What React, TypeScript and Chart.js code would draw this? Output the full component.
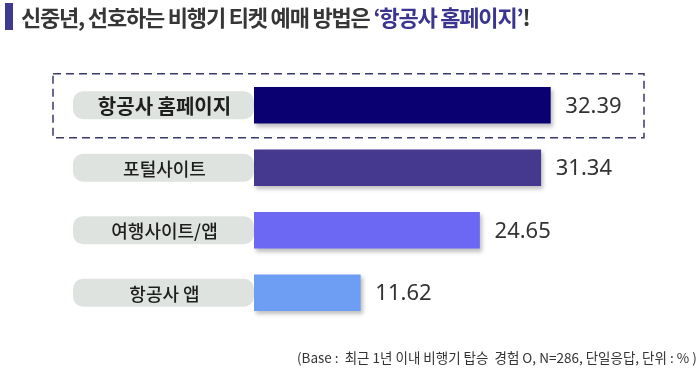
import React, { useEffect, useRef } from "react";
import { Chart, registerables } from "chart.js";

Chart.register(...registerables);

const categories = ["항공사 홈페이지", "포털사이트", "여행사이트/앱", "항공사 앱"];
const values = [32.39, 31.34, 24.65, 11.62];
const barColors = ["#0b0072", "#45398f", "#6c68f4", "#6e9ef4"];
const titleMain = "신중년, 선호하는 비행기 티켓 예매 방법은 ";
const titleHighlight = "‘항공사 홈페이지’";
const titleEnd = "!";
const footnote = "(Base :  최근 1년 이내 비행기 탑승  경험 O, N=286, 단일응답, 단위 : % )";

const KR = "'Noto Sans CJK KR', 'Noto Sans', sans-serif";

const decorPlugin = {
  id: "decor",
  beforeDatasetsDraw(chart: any) {
    const { ctx, chartArea, scales } = chart;
    const ys = scales.y;
    ctx.save();
    const y0 = ys.getPixelForValue(0);
    ctx.strokeStyle = "#3a3a6a";
    ctx.lineWidth = 1.5;
    ctx.setLineDash([8, 5]);
    ctx.strokeRect(53, y0 - 31.5, 591, 64);
    ctx.setLineDash([]);
    categories.forEach((c, i) => {
      const y = ys.getPixelForValue(i);
      const left = 73;
      const right = chartArea.left;
      const h = 28;
      ctx.fillStyle = "#dfe3df";
      ctx.beginPath();
      (ctx as any).roundRect(left, y - h / 2, right - left, h, 10);
      ctx.fill();
      ctx.fillStyle = "#1e1e1e";
      ctx.textAlign = "center";
      ctx.textBaseline = "middle";
      ctx.font = i === 0 ? `bold 20px ${KR}` : `500 18px ${KR}`;
      ctx.fillText(c, (left + right) / 2 + 1, y + 1);
    });
    ctx.restore();
    ctx.save();
    ctx.shadowColor = "rgba(0,0,0,0.25)";
    ctx.shadowOffsetX = 2;
    ctx.shadowOffsetY = 3;
    ctx.shadowBlur = 4;
  },
  afterDatasetsDraw(chart: any) {
    const { ctx, scales } = chart;
    ctx.restore();
    ctx.save();
    ctx.fillStyle = "#333333";
    ctx.textAlign = "left";
    ctx.textBaseline = "middle";
    ctx.font = "22px 'Noto Sans', sans-serif";
    values.forEach((v, i) => {
      const x = scales.x.getPixelForValue(v) + 15;
      const y = scales.y.getPixelForValue(i);
      ctx.fillText(v.toFixed(2), x, y + 1);
    });
    ctx.restore();
  },
};

export default function App() {
  const ref = useRef<HTMLCanvasElement>(null);
  useEffect(() => {
    if (!ref.current) return;
    const chart = new Chart(ref.current, {
      type: "bar",
      data: {
        labels: categories,
        datasets: [
          {
            data: values,
            backgroundColor: barColors,
            barThickness: 36,
            borderWidth: 0,
          },
        ],
      },
      options: {
        indexAxis: "y",
        animation: false,
        responsive: false,
        maintainAspectRatio: false,
        layout: { padding: { left: 254, right: 80, top: 74, bottom: 58 } },
        plugins: { legend: { display: false }, tooltip: { enabled: false } },
        scales: {
          x: { display: false, min: 0, max: 40 },
          y: { display: false },
        },
      },
      plugins: [decorPlugin],
    });
    return () => chart.destroy();
  }, []);

  return (
    <div style={{ position: "fixed", left: 0, top: 0, width: 700, height: 382, background: "#fff" }}>
      <canvas ref={ref} width={700} height={382} style={{ position: "absolute", left: 0, top: 0 }} />
      <div style={{ position: "absolute", left: 5, top: 3, width: 8, height: 27, background: "#3d3a8f" }} />
      <div
        style={{
          position: "absolute",
          left: 21,
          top: 3,
          fontFamily: KR,
          fontWeight: 700,
          fontSize: 22,
          lineHeight: "26px",
          letterSpacing: "-1.2px",
          color: "#363636",
          whiteSpace: "pre",
        }}
      >
        {titleMain}
        <span style={{ color: "#3b3590" }}>{titleHighlight}</span>
        {titleEnd}
      </div>
      <div
        style={{
          position: "absolute",
          left: 297,
          top: 348,
          fontFamily: KR,
          fontSize: 13.5,
          lineHeight: "18px",
          color: "#333",
          whiteSpace: "pre",
          letterSpacing: "0px",
        }}
      >
        {footnote}
      </div>
    </div>
  );
}
